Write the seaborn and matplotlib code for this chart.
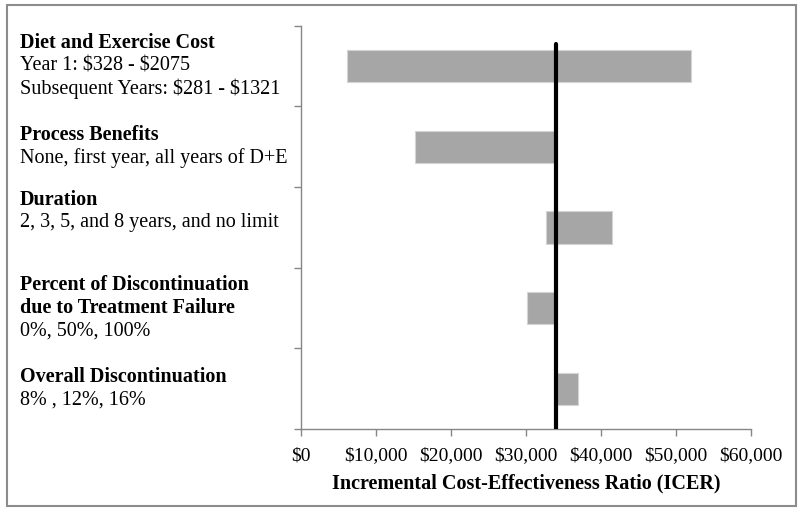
import matplotlib.pyplot as plt
import matplotlib as mpl
import numpy as np
import pandas as pd
import seaborn as sns
from matplotlib.patches import Rectangle
from matplotlib.ticker import FuncFormatter

# tornado chart data (ICER range for each parameter)
titles = ["Diet and Exercise Cost", "Process Benefits", "Duration",
          "Percent of Discontinuation\ndue to Treatment Failure", "Overall Discontinuation"]
details = [["Year 1: $328 - $2075", "Subsequent Years: $281 - $1321"],
           ["None, first year, all years of D+E"],
           ["2, 3, 5, and 8 years, and no limit"],
           ["0%, 50%, 100%"],
           ["8% , 12%, 16%"]]
low = [6100, 15200, 32700, 30100, 34000]
high = [52000, 34000, 41500, 34000, 36900]
base_icer = 34000
xticks = [0, 10000, 20000, 30000, 40000, 50000, 60000]

sns.set_theme(style="ticks")
plt.rcParams["font.family"] = ["Liberation Serif", "DejaVu Serif"]
GREY = "#868686"

df = pd.DataFrame({"param": [t.split("\n")[0] for t in titles], "low": low, "high": high})

fig = plt.figure(figsize=(8, 5.11), dpi=100)
ax = fig.add_axes([0.376, 0.1605, 0.563, 0.789])

sns.barplot(data=df, x="high", y="param", orient="h", color="#a6a6a6",
            saturation=1, width=0.4, edgecolor="#d4d4d4", linewidth=0.8, ax=ax)
# shift each bar so it spans low..high
for patch, lo, hi in zip(ax.patches, df["low"], df["high"]):
    patch.set_x(lo)
    patch.set_width(hi - lo)

ax.axvline(base_icer, ymin=0, ymax=0.955, color="black", lw=3, zorder=3)

ax.set_xlim(0, 60000)
ax.set_ylim(4.5, -0.5)
ax.set_xticks(xticks)
ax.xaxis.set_major_formatter(FuncFormatter(lambda v, p: r"\$" + f"{int(v):,}"))
ax.set_yticks(np.arange(-0.5, 5, 1))
ax.set_yticklabels([])
ax.set_ylabel("")
ax.set_xlabel("Incremental Cost-Effectiveness Ratio (ICER)", fontsize=14.5,
              fontweight="bold", color="black", labelpad=6.5)
ax.tick_params(axis="x", labelsize=14, colors=GREY, labelcolor="black", length=5, width=1, pad=8)
ax.tick_params(axis="y", colors=GREY, length=5, width=1)
for side in ["left", "bottom"]:
    ax.spines[side].set_color(GREY)
    ax.spines[side].set_linewidth(1)
sns.despine(ax=ax)

# left-hand category labels: bold title lines + plain detail lines
line_h = 23
nudge = [0, 0, 16, 0, 0]
for i, (t, d) in enumerate(zip(titles, details)):
    lines = [(s, "bold") for s in t.split("\n")] + [(s, "normal") for s in d]
    n = len(lines)
    for k, (s, w) in enumerate(lines):
        off = ((n - 1) / 2 - k) * line_h + nudge[i]
        ax.annotate(s.replace("$", r"\$"), xy=(0.025, i),
                    xycoords=("figure fraction", "data"), xytext=(0, off),
                    textcoords="offset pixels", va="center", ha="left",
                    fontsize=14.5, fontweight=w, color="black")

fig.patches.append(Rectangle((7 / 800, 5 / 511), 789 / 800, 501 / 511, transform=fig.transFigure,
                             fill=False, edgecolor="#8c8c8c", lw=1.5))

fig.savefig("out.png", dpi=100, facecolor="white")
